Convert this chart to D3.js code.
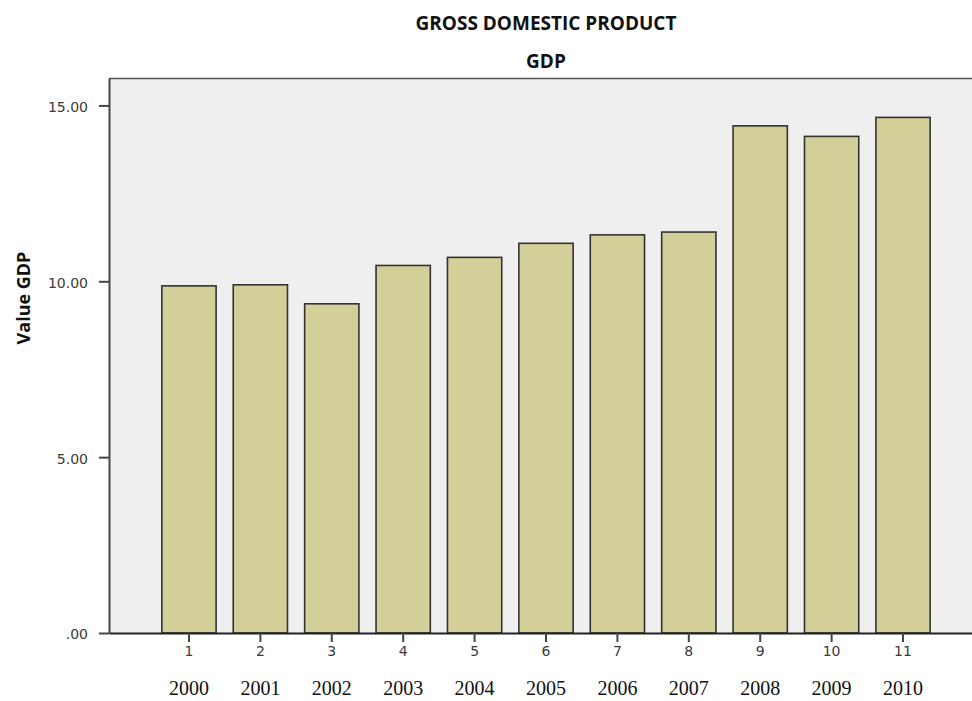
<!DOCTYPE html>
<html>
<head>
<meta charset="utf-8">
<script src="https://cdn.jsdelivr.net/npm/d3@7"></script>
<style>
  html, body { margin: 0; padding: 0; background: #ffffff; }
  svg { display: block; }
</style>
</head>
<body>
<script>
// ---- data ----
const categories = ["1", "2", "3", "4", "5", "6", "7", "8", "9", "10", "11"];
const years = ["2000", "2001", "2002", "2003", "2004", "2005", "2006", "2007", "2008", "2009", "2010"];
const gdpValues = [9.87, 9.90, 9.36, 10.45, 10.68, 11.08, 11.32, 11.40, 14.42, 14.12, 14.66];
const yTicks = [0, 5, 10, 15];
const titleLines = ["GROSS DOMESTIC PRODUCT", "GDP"];
const yAxisLabel = "Value GDP";

// ---- layout ----
const W = 972, H = 701;
const plot = { left: 109, top: 78, right: 983, bottom: 633 };

const svg = d3.select("body").append("svg")
  .attr("width", W).attr("height", H);

const x = d3.scaleBand()
  .domain(categories)
  .range([plot.left, plot.right])
  .paddingInner(0.24)
  .paddingOuter(0.74);

const y = d3.scaleLinear()
  .domain([0, 15.78])
  .range([plot.bottom, plot.top]);

// plot background
svg.append("rect")
  .attr("x", plot.left).attr("y", plot.top)
  .attr("width", plot.right - plot.left)
  .attr("height", plot.bottom - plot.top)
  .attr("fill", "#efefef");

// top border
svg.append("line")
  .attr("x1", plot.left).attr("x2", plot.right)
  .attr("y1", plot.top + 0.5).attr("y2", plot.top + 0.5)
  .attr("stroke", "#555").attr("stroke-width", 1.5);

// bars
svg.append("g").selectAll("rect")
  .data(gdpValues)
  .join("rect")
  .attr("x", (d, i) => x(categories[i]))
  .attr("y", d => y(d))
  .attr("width", x.bandwidth())
  .attr("height", d => y(0) - y(d))
  .attr("fill", "#d3cf98")
  .attr("stroke", "#333")
  .attr("stroke-width", 1.6);

// y axis
const yAxis = d3.axisLeft(y)
  .tickValues(yTicks)
  .tickSize(10)
  .tickSizeOuter(0)
  .tickPadding(11)
  .tickFormat(d => d === 0 ? ".00" : d3.format(".2f")(d));

const gy = svg.append("g")
  .attr("transform", `translate(${plot.left},0)`)
  .call(yAxis);
gy.select(".domain").attr("stroke", "#444").attr("stroke-width", 2);
gy.selectAll(".tick line").attr("stroke", "#444").attr("stroke-width", 2);
gy.selectAll(".tick text")
  .style("font-family", "'DejaVu Sans', sans-serif")
  .style("font-size", "14px")
  .attr("dy", "0.42em")
  .attr("fill", "#3a3a3a");

// x axis
const xAxis = d3.axisBottom(x)
  .tickSize(9)
  .tickPadding(4)
  .tickSizeOuter(0);
const gx = svg.append("g")
  .attr("transform", `translate(0,${plot.bottom})`)
  .call(xAxis);
gx.select(".domain").attr("stroke", "#222").attr("stroke-width", 2);
gx.selectAll(".tick line").attr("stroke", "#444").attr("stroke-width", 2);
gx.selectAll(".tick text")
  .style("font-family", "'DejaVu Sans', sans-serif")
  .style("font-size", "14px")
  .attr("fill", "#3a3a3a");

// year labels
svg.append("g").selectAll("text")
  .data(years)
  .join("text")
  .attr("x", (d, i) => x(categories[i]) + x.bandwidth() / 2)
  .attr("y", 695)
  .attr("text-anchor", "middle")
  .style("font-family", "'Liberation Serif', 'Times New Roman', serif")
  .style("font-size", "20px")
  .attr("fill", "#111")
  .text(d => d);

// titles
const cx = (plot.left + plot.right) / 2;
svg.append("text")
  .attr("x", cx).attr("y", 30)
  .attr("text-anchor", "middle")
  .style("font-family", "'Open Sans', sans-serif")
  .style("font-weight", 700)
  .style("font-size", "19px")
  .attr("fill", "#111")
  .text(titleLines[0]);
svg.append("text")
  .attr("x", cx).attr("y", 68)
  .attr("text-anchor", "middle")
  .style("font-family", "'Open Sans', sans-serif")
  .style("font-weight", 700)
  .style("font-size", "19px")
  .attr("fill", "#111")
  .text(titleLines[1]);

// y axis label
svg.append("text")
  .attr("transform", `translate(30,${298}) rotate(-90)`)
  .attr("text-anchor", "middle")
  .style("font-family", "'Open Sans', sans-serif")
  .style("font-weight", 700)
  .style("font-size", "18px")
  .attr("fill", "#111")
  .text(yAxisLabel);
</script>
</body>
</html>
